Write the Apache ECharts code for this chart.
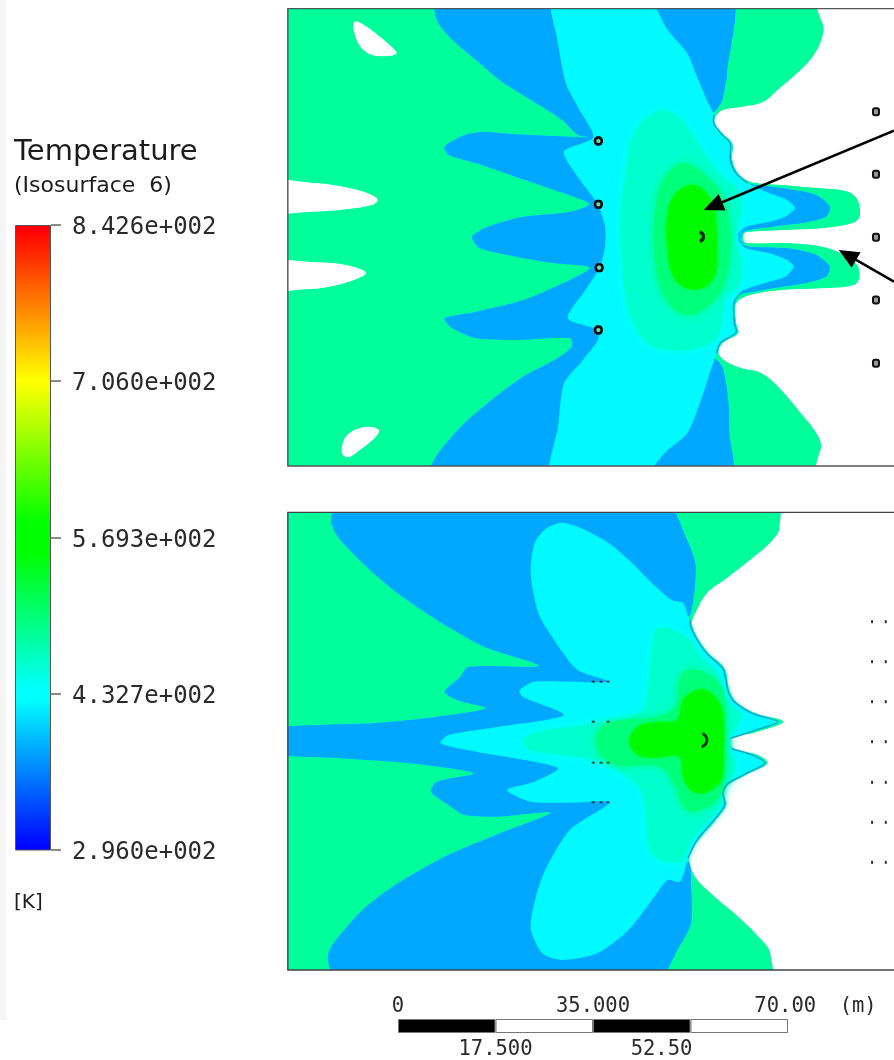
<!DOCTYPE html>
<html><head><meta charset="utf-8">
<style>html,body{margin:0;padding:0;background:#fff}#main{width:894px;height:1060px;filter:blur(0.7px) saturate(1.15)}</style>
<script src="https://cdn.jsdelivr.net/npm/echarts@6/dist/echarts.min.js"></script>
</head><body><div id="main"></div>
<script>
// ---- legend values
var legendTicks=[296.0,432.7,569.3,706.0,842.6];
var legendLabels=['2.960e+002','4.327e+002','5.693e+002','7.060e+002','8.426e+002'];
var scaleSegments=[17.5,17.5,17.5,17.5];
var scaleTop=[[0,'0'],[35,'35.000'],[69.5,'70.00'],[82.6,'(m)']];
var scaleBottom=[[17.5,'17.500'],[47.3,'52.50']];
// ---- contour bands, traced in reference units (x 0-1568, y 0-1440 per panel)
var frameTop=[[1568,26],[20,26],[20,1398],[1568,1398]];
var frameBottom=[[1568,37],[20,37],[20,1410],[1568,1410]];
var p1Base=[[-60,-30],[1330,-30],[1385,70],[1385,110],[1360,170],[1310,230],[1270,270],[1235,305],[1180,320],[1130,330],[1112,350],[1110,370],[1128,398],[1155,430],[1155,480],[1170,520],[1200,545],[1280,555],[1380,565],[1450,575],[1475,600],[1480,650],[1460,670],[1380,685],[1290,690],[1200,695],[1185,700],[1185,725],[1200,730],[1300,730],[1400,745],[1470,790],[1480,830],[1465,855],[1380,865],[1280,870],[1200,885],[1165,910],[1165,970],[1170,1000],[1130,1030],[1120,1060],[1140,1085],[1180,1105],[1230,1120],[1280,1170],[1330,1240],[1375,1310],[1380,1350],[1330,1450],[-60,1450]];
var p1HoleA=[[190,65],[215,75],[250,105],[285,140],[298,160],[280,168],[235,165],[205,140],[190,100]];
var p1HoleB=[[-60,545],[100,550],[180,565],[235,585],[250,600],[235,615],[170,628],[90,635],[-60,632]];
var p1HoleC=[[-60,787],[100,787],[170,795],[220,818],[190,840],[120,862],[70,868],[-60,868]];
var p1HoleD=[[225,1280],[253,1290],[245,1310],[210,1345],[175,1372],[158,1360],[165,1315],[190,1290]];
var p1Blue=[[400,-30],[400,60],[440,120],[500,180],[560,240],[640,300],[720,360],[760,405],[795,412],[600,402],[520,395],[470,405],[420,440],[430,465],[500,490],[600,530],[700,570],[790,612],[740,635],[620,650],[530,680],[490,710],[510,745],[600,770],[700,790],[790,803],[730,845],[620,900],[500,935],[420,955],[440,985],[500,1015],[600,1020],[740,1015],[745,1040],[700,1080],[620,1130],[550,1190],[470,1270],[395,1375],[380,1450],[1150,1450],[1148,1300],[1145,1200],[1130,1100],[1100,1060],[1105,1030],[1145,990],[1140,965],[1150,890],[1190,880],[1260,865],[1340,850],[1395,830],[1405,800],[1370,765],[1300,745],[1190,738],[1178,718],[1185,695],[1260,680],[1340,668],[1395,650],[1405,620],[1370,585],[1290,565],[1200,552],[1150,540],[1130,470],[1115,420],[1095,380],[1100,350],[1118,325],[1130,300],[1142,220],[1146,-30]];
var p1Cyan=[[695,-30],[925,-30],[990,90],[1040,160],[1065,230],[1090,300],[1108,345],[1108,370],[1126,400],[1150,430],[1150,480],[1165,520],[1195,550],[1250,580],[1295,600],[1315,625],[1290,650],[1250,665],[1190,680],[1170,700],[1172,725],[1190,745],[1250,760],[1295,780],[1312,800],[1290,830],[1250,845],[1185,870],[1160,905],[1160,968],[1165,998],[1125,1028],[1115,1060],[1100,1110],[1075,1200],[1040,1300],[990,1350],[905,1450],[690,1450],[710,1280],[725,1150],[770,1085],[812,1020],[810,990],[735,955],[780,870],[815,805],[830,740],[830,680],[810,610],[760,530],[725,455],[800,412],[760,320],[730,250],[710,130]];
var p1EdgeUpper=[[1108,345],[1108,370],[1126,400],[1150,430],[1150,480],[1165,520],[1195,550]];
var p1EdgeLower=[[1185,870],[1160,905],[1160,968],[1165,998],[1125,1028],[1115,1060]];
var p1Teal=[[960,335],[1010,345],[1050,400],[1090,470],[1130,530],[1170,570],[1180,620],[1165,690],[1165,730],[1180,790],[1170,860],[1135,890],[1130,950],[1110,1020],[1030,1050],[940,1030],[890,930],[875,800],[870,650],[885,500],[905,400]];
var p1Spring=[[1030,490],[1080,520],[1130,590],[1150,700],[1140,830],[1110,900],[1050,945],[1000,920],[965,840],[955,700],[965,580],[990,520]];
var p1Green=[[1050,555],[1085,575],[1108,620],[1115,710],[1112,820],[1085,860],[1040,865],[1005,830],[990,750],[988,660],[1005,590]];
var p2Base=[[-60,-20],[1260,-20],[1275,85],[1250,130],[1200,180],[1140,235],[1090,280],[1060,340],[1052,370],[1065,410],[1095,460],[1135,505],[1148,570],[1165,605],[1215,640],[1285,665],[1220,695],[1155,715],[1158,745],[1220,765],[1245,790],[1190,825],[1145,855],[1135,880],[1140,915],[1110,965],[1070,1020],[1045,1070],[1060,1130],[1110,1190],[1170,1250],[1230,1320],[1252,1360],[1245,1460],[-60,1460]];
var p2Blue=[[160,-20],[130,60],[150,115],[220,200],[300,280],[400,360],[520,440],[660,497],[480,500],[460,530],[420,575],[450,600],[525,625],[400,650],[250,668],[-60,690],[-60,755],[150,775],[330,790],[495,820],[400,845],[385,875],[430,915],[470,945],[560,950],[690,938],[560,1000],[420,1070],[300,1150],[210,1230],[130,1340],[122,1380],[150,1460],[950,1460],[1020,1340],[1050,1270],[1050,1150],[1045,1085],[1020,1090],[1020,360],[1048,345],[1062,200],[1040,120],[970,-20]];
var p2Cyan=[[720,68],[770,85],[840,130],[900,190],[950,250],[1000,300],[1030,310],[1048,375],[1062,412],[1092,463],[1132,508],[1144,572],[1162,607],[1210,642],[1272,665],[1210,692],[1150,715],[1153,746],[1212,767],[1238,790],[1186,823],[1141,853],[1131,880],[1136,915],[1106,963],[1066,1018],[1042,1075],[1022,1145],[990,1140],[950,1200],[890,1290],[810,1360],[720,1380],[670,1360],[640,1280],[670,1130],[740,990],[840,908],[740,908],[640,905],[580,870],[650,845],[710,805],[600,775],[500,755],[410,730],[430,705],[560,680],[725,645],[620,590],[612,570],[650,545],[840,545],[760,510],[700,420],[660,340],[640,220],[650,130],[680,85]];
var p2EdgeUpper=[[1048,360],[1048,375],[1062,412],[1092,463],[1132,508],[1144,572],[1162,607],[1210,642],[1272,665],[1210,692],[1150,715]];
var p2EdgeLower=[[1153,746],[1212,767],[1238,790],[1186,823],[1141,853],[1131,880],[1136,915],[1106,963],[1066,1018],[1042,1075]];
var p2Teal=[[965,385],[1040,415],[1075,470],[1115,515],[1125,570],[1145,615],[1180,645],[1143,715],[1143,750],[1165,800],[1125,880],[1125,915],[1095,960],[1050,1020],[1025,1085],[950,1060],[930,900],[900,840],[800,780],[640,750],[620,725],[650,700],[800,670],[920,640],[940,560],[950,450]];
var p2Spring=[[1040,510],[1090,520],[1130,570],[1140,700],[1135,850],[1115,900],[1060,935],[1030,920],[1010,860],[970,800],[860,795],[815,760],[810,700],[850,665],[960,650],[1010,620],[1020,540]];
var p2Green=[[1075,568],[1110,590],[1130,640],[1132,760],[1125,840],[1085,878],[1050,870],[1030,830],[1020,770],[960,772],[915,765],[892,725],[915,680],[960,668],[1015,660],[1030,600]];
// ---- probes and arrows
var p1Rings=[[813,423],[813,613],[815,803],[813,990],[1522,335],[1522,523],[1522,712],[1522,900],[1522,1090]];
var p1Core=[[1075,710]];
var p2Dots=[[1512,365],[1547,365],[1512,485],[1547,485],[1512,605],[1547,605],[1512,725],[1547,725],[1512,847],[1547,847],[1512,967],[1547,967],[1512,1087],[1547,1087]];
var p2Dashes=[[800,545],[820,545],[838,545],[800,665],[838,665],[800,788],[820,788],[838,788],[800,907],[820,907],[838,907]];
var p2Core=[[1080,720]];
var arrowA=[[1568,392],[1082,630]];
var arrowB=[[1568,845],[1427,750]];

var COL={spring:'#00ff9f',blue:'#00a5ff',cyan:'#00f2ff',teal:'#00ffce',halo:'#00ff84',green:'#00f000',edge:'#18a8c4'};
var frames=[frameTop,frameBottom];
function clipFor(api,g){var a=api.coord(frames[g][1]),b=api.coord(frames[g][3]);return {type:'rect',shape:{x:a[0],y:a[1],width:b[0]-a[0],height:b[1]-a[1]}};}
function area(pts,color,g,smooth,soft){return {type:'custom',coordinateSystem:'cartesian2d',xAxisIndex:g,yAxisIndex:g,silent:true,animation:false,data:[[0,0]],
  renderItem:function(p,api){return {type:'polygon',clipPath:clipFor(api,g),shape:{points:pts.map(function(q){return api.coord(q);}),smooth:smooth==null?0.35:smooth},style:{fill:color,shadowBlur:soft||0,shadowColor:color}};}};}
function edge(pts,g){return {type:'custom',coordinateSystem:'cartesian2d',xAxisIndex:g,yAxisIndex:g,silent:true,animation:false,data:[[0,0]],
  renderItem:function(p,api){return {type:'polyline',shape:{points:pts.map(function(q){return api.coord(q);}),smooth:0.25},style:{stroke:COL.edge,lineWidth:1.6,fill:null}};}};}
function poly(pts,color,g,w){return {type:'custom',coordinateSystem:'cartesian2d',xAxisIndex:g,yAxisIndex:g,silent:true,animation:false,data:[[0,0]],
  renderItem:function(p,api){return {type:'polyline',shape:{points:pts.map(function(q){return api.coord(q);})},style:{stroke:color,lineWidth:w,fill:null}};}};}
function marks(pts,g,fn){return {type:'custom',coordinateSystem:'cartesian2d',xAxisIndex:g,yAxisIndex:g,silent:true,animation:false,data:pts,
  renderItem:function(p,api){return fn(api.coord([api.value(0),api.value(1)]));}};}
function ring(c){return {type:'circle',shape:{cx:c[0],cy:c[1],r:3.4},style:{fill:'#7db',stroke:'#111',lineWidth:2.6}};}
function square(c){return {type:'rect',shape:{x:c[0]-3,y:c[1]-3.5,width:6,height:7,r:2},style:{fill:'#999',stroke:'#111',lineWidth:2}};}
function dot(c){return {type:'rect',shape:{x:c[0]-1,y:c[1]-1.5,width:2,height:3},style:{fill:'#333'}};}
function dash(c){return {type:'rect',shape:{x:c[0]-1.5,y:c[1]-1,width:3,height:2},style:{fill:'#444'}};}
function coreA(c){return {type:'arc',shape:{cx:c[0]-2,cy:c[1],r:4.5,startAngle:-1.4,endAngle:1.4},style:{stroke:'#0c2a0c',fill:null,lineWidth:3.4}};}
function coreB(c){return {type:'arc',shape:{cx:c[0]-3,cy:c[1],r:7,startAngle:-1.2,endAngle:1.3},style:{stroke:'#113311',fill:null,lineWidth:2.8}};}
function arrow(a){return {type:'custom',coordinateSystem:'cartesian2d',xAxisIndex:0,yAxisIndex:0,silent:true,animation:false,data:[[0,0]],
  renderItem:function(p,api){var s=api.coord(a[0]),t=api.coord(a[1]),d=Math.atan2(t[1]-s[1],t[0]-s[0]),L=20,W=9;
    var bx=t[0]-L*Math.cos(d),by=t[1]-L*Math.sin(d),nx=-Math.sin(d)*W,ny=Math.cos(d)*W;
    return {type:'group',children:[{type:'line',shape:{x1:s[0],y1:s[1],x2:bx,y2:by},style:{stroke:'#000',lineWidth:2.6}},
      {type:'polygon',shape:{points:[t,[bx+nx,by+ny],[bx-nx,by-ny]]},style:{fill:'#000'}}]};}};}
function scaleText(list,off){return {type:'custom',coordinateSystem:'cartesian2d',xAxisIndex:3,yAxisIndex:3,silent:true,animation:false,clip:false,data:list.map(function(d){return [d[0],0,d[1]];}),
  encode:{x:0},renderItem:function(p,api){var c=api.coord([api.value(0),0]);var t=list[p.dataIndex][1];
    return {type:'text',x:c[0],y:c[1]+off,style:{text:t,fill:'#2a2a2a',font:'20.5px "DejaVu Sans Mono"',align:'center',verticalAlign:'middle'}};}};}
function txt(t,x,y,size){return {text:t,left:x,top:y,padding:0,textStyle:{fontFamily:'DejaVu Sans',fontSize:size,fontWeight:'normal',color:'#1c1c1c'}};}
function mapAxisX(i){return {type:'value',gridIndex:i,min:0,max:1568,show:false};}
function mapAxisY(i){return {type:'value',gridIndex:i,min:0,max:1440,inverse:true,show:false};}

var series=[
 area(p1Base,COL.spring,0),area(p1HoleA,'#fff',0),area(p1HoleB,'#fff',0),area(p1HoleC,'#fff',0),area(p1HoleD,'#fff',0),
 area(p1Blue,COL.blue,0,0.25),area(p1Cyan,COL.cyan,0,0.25),area(p1Teal,COL.teal,0,0.35,12),area(p1Spring,COL.halo,0,0.35,8),area(p1Green,COL.green,0,0.35,3),
 edge(p1EdgeUpper,0),edge(p1EdgeLower,0),
 marks(p1Rings,0,square),marks(p1Rings.slice(0,4),0,ring),marks(p1Core,0,coreA),
 poly(frameTop,'#555',0,1.4),arrow(arrowA),arrow(arrowB),
 area(p2Base,COL.spring,1),area(p2Blue,COL.blue,1,0.25),area(p2Cyan,COL.cyan,1,0.25),area(p2Teal,COL.teal,1,0.35,12),area(p2Spring,COL.halo,1,0.35,8),area(p2Green,COL.green,1,0.35,3),
 edge(p2EdgeUpper,1),edge(p2EdgeLower,1),
 marks(p2Dots,1,dot),marks(p2Dashes,1,dash),marks(p2Core,1,coreB),poly(frameBottom,'#444',1,1.4),
 {type:'bar',xAxisIndex:2,yAxisIndex:2,silent:true,animation:false,barWidth:'100%',data:[842.6],
  itemStyle:{borderColor:'#555',borderWidth:1,color:new echarts.graphic.LinearGradient(0,0,0,1,[{offset:0,color:'#ff0000'},{offset:0.25,color:'#ffff00'},{offset:0.5,color:'#00ff00'},{offset:0.75,color:'#00ffff'},{offset:1,color:'#0000ff'}])}}
];
['#000','#fff','#000','#fff'].forEach(function(c,i){
  series.push({type:'bar',stack:'s',xAxisIndex:3,yAxisIndex:3,silent:true,animation:false,barWidth:'100%',data:[scaleSegments[i]],itemStyle:{color:c,borderColor:'#777',borderWidth:1}});
});
series.push(scaleText(scaleTop,-19),scaleText(scaleBottom,24));

var chart=echarts.init(document.getElementById('main'),null,{renderer:'canvas'});
chart.setOption({
 backgroundColor:'#fff',animation:false,
 title:[txt('Temperature',14,138,29),txt('(Isosurface  6)',14,175,22),txt('[K]',14,893,20)],
 graphic:[{type:'rect',shape:{x:0,y:0,width:6,height:1020},style:{fill:'#f6f6f6'},silent:true}],
 grid:[{left:280,top:0,width:614,height:480},{left:280,top:500,width:614,height:480},
       {left:15,top:225,width:36,height:625},{left:398,top:1019,width:390,height:14}],
 xAxis:[mapAxisX(0),mapAxisX(1),
   {type:'category',gridIndex:2,data:['T'],show:false},
   {type:'value',gridIndex:3,min:0,max:70,show:false}],
 yAxis:[mapAxisY(0),mapAxisY(1),
   {type:'value',gridIndex:2,min:296,max:842.6,position:'right',splitLine:{show:false},axisLine:{show:false},
    axisTick:{show:true,length:10,customValues:legendTicks,lineStyle:{color:'#666',width:1.5}},
    axisLabel:{margin:21,customValues:legendTicks,showMinLabel:true,showMaxLabel:true,
      formatter:function(v){var i=legendTicks.indexOf(v);return i<0?'':'{a|'+legendLabels[i]+'}';},
      rich:{a:{fontFamily:'DejaVu Sans Mono',fontSize:24,color:'#2a2a2a',padding:[6,0,0,0]}}}},
   {type:'category',gridIndex:3,data:['scale'],show:false}],
 series:series
});
</script></body></html>
